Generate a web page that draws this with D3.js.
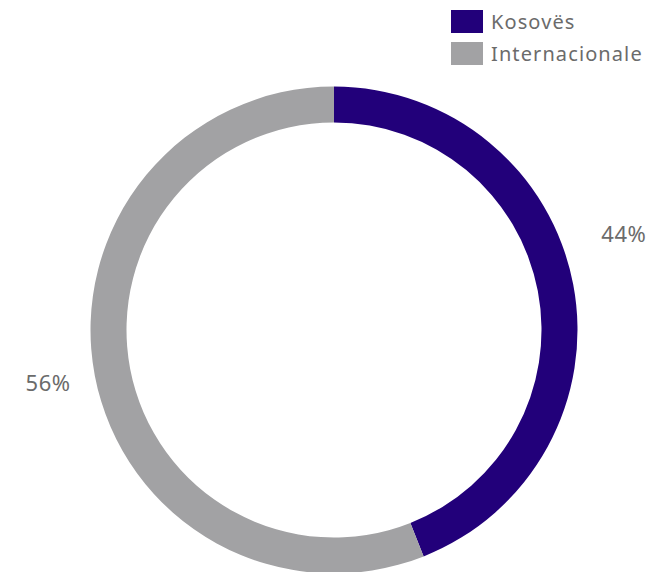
<!DOCTYPE html>
<html>
<head>
<meta charset="utf-8">
<script src="https://cdn.jsdelivr.net/npm/d3@7/dist/d3.min.js"></script>
<style>
  html, body { margin: 0; padding: 0; background: #fff; }
  svg { display: block; font-family: "Noto Sans", "Open Sans", sans-serif; }
</style>
</head>
<body>
<svg id="chart" width="646" height="572"></svg>
<script>
// Shares by origin
const categories = ["Kosovës", "Internacionale"];
const shares = [44, 56];
const colors = ["#22007a", "#a2a2a4"];

const width = 646, height = 572;
const cx = 334, cy = 330;
const outerR = 243.5, innerR = 207.5, labelR = 268;

const svg = d3.select("#chart");

const pie = d3.pie().sort(null).value(d => d.value);
const arcs = pie(categories.map((c, i) => ({ name: c, value: shares[i] })));

const arc = d3.arc().innerRadius(innerR).outerRadius(outerR);

const g = svg.append("g").attr("transform", `translate(${cx},${cy})`);

g.selectAll("path.slice")
  .data(arcs)
  .join("path")
  .attr("class", "slice")
  .attr("d", arc)
  .attr("fill", (d, i) => colors[i]);

// Percentage labels outside the ring; right-hand label lifted clear of the legend side
const labelShift = { "Kosovës": -45, "Internacionale": 3 };
g.selectAll("text.pct")
  .data(arcs)
  .join("text")
  .attr("class", "pct")
  .each(function(d) {
    const mid = (d.startAngle + d.endAngle) / 2;
    const x = labelR * Math.sin(mid) + (Math.sin(mid) >= 0 ? 4 : 0);
    const y = -labelR * Math.cos(mid) + labelShift[d.data.name];
    d3.select(this)
      .attr("x", x)
      .attr("y", y)
      .attr("text-anchor", x >= 0 ? "start" : "end");
  })
  .attr("dy", "0.35em")
  .attr("font-size", 22)
  .attr("letter-spacing", 0.6)
  .attr("fill", "#6b6b6b")
  .text(d => d.data.value + "%");

// Legend
const legend = svg.append("g").attr("transform", "translate(451,10)");
const items = legend.selectAll("g")
  .data(categories)
  .join("g")
  .attr("transform", (d, i) => `translate(0,${i * 32})`);
items.append("rect")
  .attr("width", 32).attr("height", 23)
  .attr("fill", (d, i) => colors[i]);
items.append("text")
  .attr("x", 40).attr("y", 11.5).attr("dy", "0.35em")
  .attr("font-size", 20)
  .attr("letter-spacing", 1.1)
  .attr("fill", "#6b6b6b")
  .text(d => d);
</script>
</body>
</html>
